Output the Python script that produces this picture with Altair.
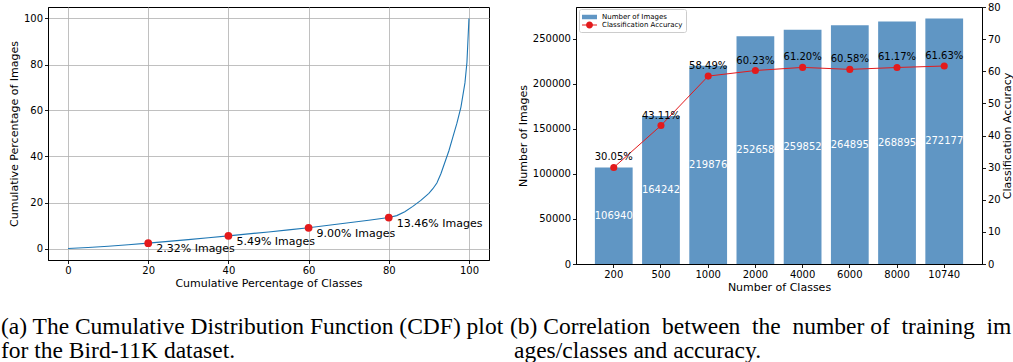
import altair as alt
import pandas as pd

# ---------------- data ----------------
cdf_x = [0, 5, 10, 15, 20, 25, 30, 35, 40, 45, 50, 55, 60, 65, 70, 75, 80,
         82, 84, 86, 88, 90, 91, 92, 93, 94, 95, 96, 97, 98, 99, 99.5, 100]
cdf_y = [0, 0.45, 1.0, 1.6, 2.32, 3.1, 3.85, 4.65, 5.49, 6.35, 7.2, 8.1, 9.0,
         10.1, 11.2, 12.3, 13.46, 14.3, 16.0, 18.3, 20.9, 24.0, 26.0, 28.5,
         32.5, 37.5, 42.5, 48.5, 54.5, 61.5, 72.0, 81.0, 100]
mark_x = [20, 40, 60, 80]
mark_y = [2.32, 5.49, 9.00, 13.46]
mark_labels = ["2.32% Images", "5.49% Images", "9.00% Images", "13.46% Images"]

classes = ["200", "500", "1000", "2000", "4000", "6000", "8000", "10740"]
images = [106940, 164242, 219876, 252658, 259852, 264895, 268895, 272177]
accuracy = [30.05, 43.11, 58.49, 60.23, 61.20, 60.58, 61.17, 61.63]
acc_labels = ["30.05%", "43.11%", "58.49%", "60.23%", "61.20%", "60.58%", "61.17%", "61.63%"]

series_names = ["Number of Images", "Classification Accuracy"]

caption_a = ["(a) The Cumulative Distribution Function (CDF) plot",
             "for the Bird-11K dataset."]
EN = "\u2002"
caption_b1 = "(b) Correlation" + EN + "between" + EN + "the" + EN + "number of" + EN + "training" + EN + "im"
caption_b2 = "ages/classes and accuracy."

# ---------------- styles ----------------
FONT = "DejaVu Sans"
SERIF = "Liberation Serif"
BLUE = "#6096c4"
RED = "#e31a1c"
LINE_BLUE = "#1f77b4"

cdf_df = pd.DataFrame({"x": cdf_x, "y": cdf_y})
mark_df = pd.DataFrame({"x": mark_x, "y": mark_y, "label": mark_labels})
bar_df = pd.DataFrame({"cls": classes, "images": images, "acc": accuracy,
                       "acc_label": acc_labels})
one = pd.DataFrame({"k": [0]})

# ---------------- left panel ----------------
xs = alt.Scale(domain=[-5, 105], nice=False, zero=False)
ys = alt.Scale(domain=[-5, 105], nice=False, zero=False)
x_l = alt.X("x:Q", scale=xs, axis=alt.Axis(values=[0, 20, 40, 60, 80, 100], grid=True,
                                           title="Cumulative Percentage of Classes",
                                           titlePadding=2))
y_l = alt.Y("y:Q", scale=ys, axis=alt.Axis(values=[0, 20, 40, 60, 80, 100], grid=True,
                                           title="Cumulative Percentage of Images",
                                           titlePadding=4))

cdf_line = alt.Chart(cdf_df).mark_line(color=LINE_BLUE, strokeWidth=1.1).encode(x=x_l, y=y_l)
cdf_pts = alt.Chart(mark_df).mark_circle(color=RED, size=60, opacity=1).encode(x=x_l, y=y_l)
cdf_lbl = alt.Chart(mark_df).mark_text(align="left", baseline="middle", dx=8, dy=6,
                                        font=FONT, fontSize=11, color="black").encode(
    x=x_l, y=y_l, text="label:N")
cap_a = alt.Chart(one).mark_text(align="left", baseline="alphabetic", font=SERIF,
                                 fontSize=23.5, lineHeight=24, color="black").encode(
    x=alt.value(-47), y=alt.value(327), text=alt.value(caption_a))

left = alt.layer(cdf_line, cdf_pts, cdf_lbl, cap_a).properties(width=441, height=253)

# ---------------- right panel ----------------
cls_scale = alt.Scale(domain=classes, paddingInner=0.2, paddingOuter=0.4)
x_r = alt.X("cls:N", sort=classes, scale=cls_scale,
            axis=alt.Axis(title="Number of Classes", labelAngle=0, titlePadding=2))
left_scale = alt.Scale(domain=[0, 285000], nice=False)
left_axis = alt.Axis(values=[0, 50000, 100000, 150000, 200000, 250000], format="d",
                     title="Number of Images", titlePadding=4)
right_scale = alt.Scale(domain=[0, 80], nice=False)
right_axis = alt.Axis(orient="right", values=[0, 10, 20, 30, 40, 50, 60, 70, 80],
                      title="Classification Accuracy", titleAngle=270,
                      titleBaseline="top", titlePadding=1)

bar_shape = "M-1,-0.45H2V0.45H-1Z"
line_shape = ("M-1,-0.1H2V0.1H-1Z"
              "M-0.2,0A0.7,0.7,0,1,1,1.2,0A0.7,0.7,0,1,1,-0.2,0Z")
legend = alt.Legend(
    title=None, orient="none", legendX=3, legendY=2,
    labelFont=FONT, labelFontSize=7, labelColor="black",
    symbolSize=100, symbolStrokeWidth=0, symbolOpacity=1,
    symbolType=alt.ExprRef(
        expr="datum.value === 'Number of Images' ? '%s' : '%s'" % (bar_shape, line_shape)),
    labelOffset=10, rowPadding=0, padding=3,
    strokeColor="#cccccc", fillColor="white", cornerRadius=2,
)

bars = alt.Chart(bar_df).transform_calculate(series="'Number of Images'").mark_bar().encode(
    x=x_r,
    y=alt.Y("images:Q", scale=left_scale, axis=left_axis),
    color=alt.Color("series:N", scale=alt.Scale(domain=series_names, range=[BLUE, RED]),
                    legend=legend),
)
bar_lbl = alt.Chart(bar_df).transform_calculate(half="datum.images / 2").mark_text(
    color="white", font=FONT, fontSize=10, baseline="middle").encode(
    x=x_r,
    y=alt.Y("half:Q", scale=left_scale, axis=left_axis),
    text=alt.Text("images:Q", format="d"),
)
left_group = alt.layer(bars, bar_lbl)

acc_line = alt.Chart(bar_df).mark_line(color=RED, strokeWidth=1).encode(
    x=x_r, y=alt.Y("acc:Q", scale=right_scale, axis=right_axis))
acc_pts = alt.Chart(bar_df).mark_circle(color=RED, size=50, opacity=1).encode(
    x=x_r, y=alt.Y("acc:Q", scale=right_scale, axis=right_axis))
acc_lbl = alt.Chart(bar_df).mark_text(font=FONT, fontSize=10, color="black",
                                      baseline="middle", dy=-10).encode(
    x=x_r, y=alt.Y("acc:Q", scale=right_scale, axis=right_axis), text="acc_label:N")
right_group = alt.layer(acc_line, acc_pts, acc_lbl)

cap_b1 = alt.Chart(one).mark_text(align="left", baseline="alphabetic", font=SERIF,
                                  fontSize=23.5, color="black").encode(
    x=alt.value(-66), y=alt.value(327), text=alt.value(caption_b1))
cap_b2 = alt.Chart(one).mark_text(align="left", baseline="alphabetic", font=SERIF,
                                  fontSize=23.5, color="black").encode(
    x=alt.value(-62), y=alt.value(351), text=alt.value(caption_b2))

right = alt.layer(left_group, right_group, cap_b1, cap_b2).resolve_scale(
    y="independent").properties(width=406, height=257)

chart = alt.hconcat(left, right, spacing=87, bounds="flush").resolve_scale(
    color="independent").resolve_legend(color="independent").properties(
    padding={"left": 0, "top": 1, "right": 0, "bottom": 0}
).configure_view(stroke="black", strokeWidth=1).configure_axis(
    labelFont=FONT, titleFont=FONT, labelFontSize=10, titleFontSize=11,
    titleFontWeight="normal", labelColor="black", titleColor="black",
    tickColor="black", domainColor="black", tickSize=3.5, tickWidth=0.9,
    domainWidth=1, labelPadding=2, gridColor="#b0b0b0", gridWidth=0.8, grid=False,
)

chart.save("out.html", embed_options={"renderer": "svg", "actions": False})
